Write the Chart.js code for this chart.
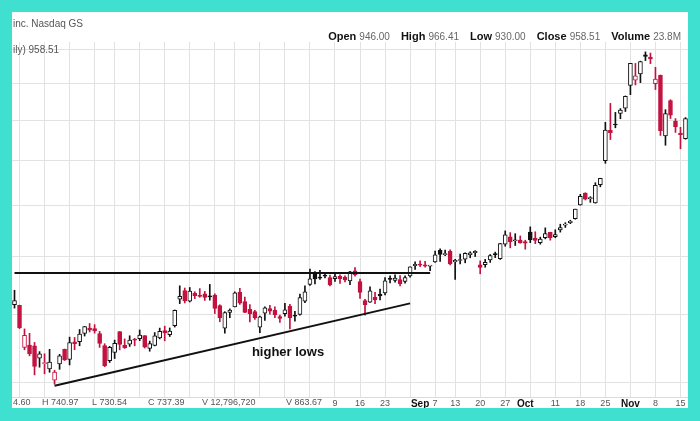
<!DOCTYPE html>
<html>
<head>
<meta charset="utf-8">
<script src="https://cdn.jsdelivr.net/npm/chart.js@4.4.1/dist/chart.umd.min.js"></script>
<style>
  html, body { margin: 0; padding: 0; }
  body { width: 700px; height: 421px; background: #40e0d0; position: relative; overflow: hidden; }
  #panel { position: absolute; left: 12px; top: 12px; width: 676px; height: 396px; background: #fff; }
  canvas { display: block; }
</style>
</head>
<body>
<div id="panel"><canvas id="chart" width="676" height="396"></canvas></div>
<script>
// daily candles, May 7 - Nov 16
const dates = [
  '2021-05-07','2021-05-10','2021-05-11','2021-05-12','2021-05-13','2021-05-14','2021-05-17','2021-05-18','2021-05-19','2021-05-20','2021-05-21','2021-05-24','2021-05-25','2021-05-26','2021-05-27','2021-05-28',
  '2021-06-01','2021-06-02','2021-06-03','2021-06-04','2021-06-07','2021-06-08','2021-06-09','2021-06-10','2021-06-11','2021-06-14','2021-06-15','2021-06-16','2021-06-17','2021-06-18','2021-06-21','2021-06-22','2021-06-23','2021-06-24','2021-06-25','2021-06-28','2021-06-29','2021-06-30',
  '2021-07-01','2021-07-02','2021-07-06','2021-07-07','2021-07-08','2021-07-09','2021-07-12','2021-07-13','2021-07-14','2021-07-15','2021-07-16','2021-07-19','2021-07-20','2021-07-21','2021-07-22','2021-07-23','2021-07-26','2021-07-27','2021-07-28','2021-07-29','2021-07-30',
  '2021-08-02','2021-08-03','2021-08-04','2021-08-05','2021-08-06','2021-08-09','2021-08-10','2021-08-11','2021-08-12','2021-08-13','2021-08-16','2021-08-17','2021-08-18','2021-08-19','2021-08-20','2021-08-23','2021-08-24','2021-08-25','2021-08-26','2021-08-27','2021-08-30','2021-08-31',
  '2021-09-01','2021-09-02','2021-09-03','2021-09-07','2021-09-08','2021-09-09','2021-09-10','2021-09-13','2021-09-14','2021-09-15','2021-09-16','2021-09-17','2021-09-20','2021-09-21','2021-09-22','2021-09-23','2021-09-24','2021-09-27','2021-09-28','2021-09-29','2021-09-30',
  '2021-10-01','2021-10-04','2021-10-05','2021-10-06','2021-10-07','2021-10-08','2021-10-11','2021-10-12','2021-10-13','2021-10-14','2021-10-15','2021-10-18','2021-10-19','2021-10-20','2021-10-21','2021-10-22','2021-10-25','2021-10-26','2021-10-27','2021-10-28','2021-10-29',
  '2021-11-01','2021-11-02','2021-11-03','2021-11-04','2021-11-05','2021-11-08','2021-11-09','2021-11-10','2021-11-11','2021-11-12','2021-11-15','2021-11-16'
];
const opens = [
  665.8,664.9,599.2,602.5,601.5,583.4,575.6,568.0,552.6,575.0,596.1,581.6,607.3,607.6,620.2,628.5,
  627.8,620.1,601.8,579.7,591.8,623.0,602.2,603.9,610.2,612.2,616.7,597.5,601.9,613.4,624.5,618.3,632.0,675.0,689.6,671.6,684.7,679.8,
  683.9,679.0,681.7,664.3,628.4,653.2,662.2,686.3,670.8,658.4,654.7,629.9,652.0,659.6,656.4,646.4,651.0,663.4,647.0,649.8,671.8,
  700.0,719.0,711.0,716.0,711.9,710.2,714.0,712.7,706.3,723.7,705.1,672.7,669.8,678.2,682.9,685.4,710.7,707.0,708.3,705.0,714.7,733.0,
  734.1,734.5,732.3,740.0,761.6,753.4,759.6,740.2,742.6,745.0,752.8,757.2,734.6,734.8,743.5,755.0,745.9,773.1,787.2,779.8,781.0,
  778.4,796.5,784.8,776.2,785.5,796.2,787.7,800.9,810.5,815.5,823.7,851.8,877.5,865.4,856.0,895.5,950.5,1024.7,1039.7,1068.3,1081.9,
  1145.0,1159.4,1177.3,1234.4,1228.0,1149.8,1173.6,1010.4,1102.8,1047.5,1017.6,1003.3
];
const highs = [
  690.0,665.0,627.1,620.4,606.5,592.9,589.7,596.3,566.2,588.9,596.7,614.5,614.0,626.2,631.1,635.6,
  633.8,623.4,604.6,600.6,610.0,623.1,611.8,616.6,612.6,625.5,616.8,608.5,621.5,628.4,631.4,628.6,657.2,697.6,693.8,694.7,687.5,692.8,
  688.0,700.0,684.0,665.7,654.4,658.9,687.2,693.3,678.6,666.1,656.7,647.2,662.4,664.9,662.2,648.8,668.2,666.5,655.0,683.7,697.5,
  726.9,722.7,724.9,721.0,716.3,719.0,716.6,715.2,722.8,729.9,709.5,674.6,695.8,686.6,692.1,712.1,715.2,717.0,715.4,715.0,731.0,740.4,
  742.0,741.0,734.0,760.2,764.5,762.1,762.6,744.8,754.5,756.9,758.9,761.0,742.0,744.7,753.7,758.2,774.8,799.0,795.6,793.5,789.1,
  780.8,807.0,797.3,786.7,805.0,796.4,801.2,812.3,815.4,820.3,843.2,874.5,878.0,869.5,900.0,910.0,1045.0,1094.9,1070.9,1081.0,1115.2,
  1208.6,1208.6,1215.4,1243.5,1239.9,1197.0,1174.5,1078.1,1105.0,1054.5,1032.0,1057.2
];
const lows = [
  660.2,627.6,595.6,586.8,559.7,570.5,561.2,563.4,547.0,567.5,580.0,573.7,595.7,601.5,616.2,622.4,
  620.6,599.1,571.2,577.2,582.9,595.5,597.6,600.5,601.5,609.2,598.2,593.5,601.3,611.8,608.9,615.5,630.0,667.6,668.7,670.3,675.9,678.1,
  672.8,673.3,651.4,638.3,620.5,644.7,662.2,666.3,652.8,637.9,642.2,621.3,640.5,650.3,644.6,637.3,647.1,627.2,639.4,648.8,669.0,
  698.4,701.0,708.9,711.4,697.6,705.1,701.9,704.2,699.4,714.3,676.4,648.8,669.4,667.6,673.7,682.2,702.6,704.0,697.6,702.1,712.7,726.4,
  731.3,730.5,724.2,739.3,740.8,751.6,734.5,708.9,736.4,738.4,747.6,750.0,718.6,730.4,739.1,747.9,744.6,769.3,766.2,770.7,775.0,
  763.6,776.1,774.2,773.2,783.4,780.9,785.5,796.6,805.8,813.4,822.4,851.5,862.5,857.4,855.5,891.0,944.2,1001.4,1030.8,1054.2,1073.2,
  1118.7,1146.0,1152.6,1217.0,1208.0,1133.0,1011.5,987.3,1054.7,1019.2,978.6,1002.2
];
const closes = [
  672.4,629.0,617.2,589.9,571.7,589.7,576.8,577.9,563.5,586.8,580.9,606.4,604.7,619.1,630.9,625.2,
  623.9,605.1,572.8,599.1,605.1,603.6,598.8,610.1,609.9,617.7,599.4,604.9,616.6,623.3,620.8,623.7,656.6,679.8,671.9,688.7,680.8,679.7,
  677.9,678.9,659.6,644.7,652.8,657.0,685.7,668.5,653.4,650.6,644.2,646.2,660.5,655.3,649.3,643.4,657.6,644.8,647.0,677.4,687.2,
  709.7,709.7,710.9,714.6,699.1,713.8,710.0,707.8,722.3,717.2,686.2,665.7,689.0,673.5,680.3,706.3,708.5,711.2,701.2,711.9,730.9,735.7,
  734.1,732.4,733.6,752.9,753.9,754.9,736.3,743.0,744.5,755.8,757.0,759.5,730.2,739.4,751.9,753.6,774.4,791.4,777.6,781.3,775.5,
  775.2,781.5,780.6,782.8,793.6,785.5,791.9,805.7,811.1,818.3,843.0,870.1,864.3,865.8,894.0,909.7,1024.9,1018.4,1037.9,1077.0,1114.0,
  1208.6,1172.0,1213.9,1229.9,1222.1,1162.9,1023.5,1068.0,1063.5,1033.4,1013.4,1054.7
];

// drawn lines
const resistanceLevel = 720;
const resistanceFrom = '2021-05-07';
const resistanceTo = '2021-09-03';
const trendFrom = ['2021-05-19', 545];
const trendTo = ['2021-08-30', 668];

// axis ticks
const tickDates = ['2021-08-09','2021-08-16','2021-08-23','2021-09-01','2021-09-07','2021-09-13','2021-09-20','2021-09-27','2021-10-01','2021-10-11','2021-10-18','2021-10-25','2021-11-01','2021-11-08','2021-11-15'];
const tickTexts = ['9','16','23','Sep','7','13','20','27','Oct','11','18','25','Nov','8','15'];
const priceGrid = [550, 650, 750, 850, 950, 1050, 1150, 1250];

const UP = '#111111';
const DOWN = '#c2123f';
const FONT = '"Liberation Sans", Arial, sans-serif';

// stockcharts style: colour from previous close, hollow when close > open
const lineColor = closes.map((c, i) => (i > 0 && c < closes[i - 1]) ? DOWN : UP);
const fillColor = closes.map((c, i) => c > opens[i] ? '#ffffff' : lineColor[i]);

// grid on the first trading day of each week
const weekStart = dates.map((d, i) => {
  if (i === 0) return false;
  const a = new Date(dates[i - 1] + 'T12:00:00Z').getUTCDay();
  const b = new Date(d + 'T12:00:00Z').getUTCDay();
  return b < a;
});

const resistance = dates.map((d, i) =>
  (i === dates.indexOf(resistanceFrom) || i === dates.indexOf(resistanceTo)) ? resistanceLevel : null);
const trend = dates.map(d => d === trendFrom[0] ? trendFrom[1] : d === trendTo[0] ? trendTo[1] : null);

const textLayer = {
  id: 'textLayer',
  afterDraw(chart) {
    const ctx = chart.ctx;
    const area = chart.chartArea;
    ctx.save();
    ctx.textBaseline = 'middle';

    ctx.fillStyle = '#555';
    ctx.font = '10px ' + FONT;
    ctx.textAlign = 'left';
    ctx.fillText('inc. Nasdaq GS', 1, 12);
    ctx.fillText('ily) 958.51', 1, 38);

    // quote line, right aligned
    const parts = [['Open', '946.00'], ['High', '966.41'], ['Low', '930.00'], ['Close', '958.51'], ['Volume', '23.8M']];
    const bold = 'bold 11px ' + FONT, reg = '10px ' + FONT;
    const gap = 11;
    let w = 0;
    parts.forEach(([k, v], i) => {
      ctx.font = bold; w += ctx.measureText(k + ' ').width;
      ctx.font = reg; w += ctx.measureText(v).width + (i < parts.length - 1 ? gap : 0);
    });
    let x = 669 - w;
    parts.forEach(([k, v]) => {
      ctx.font = bold; ctx.fillStyle = '#111'; ctx.fillText(k + ' ', x, 25); x += ctx.measureText(k + ' ').width;
      ctx.font = reg; ctx.fillStyle = '#666'; ctx.fillText(v, x, 25); x += ctx.measureText(v).width + gap;
    });

    // bottom data readout
    ctx.font = '9px ' + FONT;
    ctx.fillStyle = '#555';
    const readout = [['4.60', 1], ['H 740.97', 30], ['L 730.54', 80], ['C 737.39', 136], ['V 12,796,720', 190], ['V 863.67', 274]];
    readout.forEach(([t, px]) => ctx.fillText(t, px, area.bottom + 6));

    ctx.font = 'bold 13px ' + FONT;
    ctx.fillStyle = '#111';
    ctx.textAlign = 'center';
    ctx.fillText('higher lows', 276, 340);

    ctx.strokeStyle = '#e6d6da';
    ctx.beginPath();
    ctx.moveTo(0, area.bottom + 0.5);
    ctx.lineTo(area.right, area.bottom + 0.5);
    ctx.stroke();
    ctx.restore();
  }
};

new Chart(document.getElementById('chart'), {
  type: 'bar',
  data: {
    labels: dates,
    datasets: [
      {
        type: 'line', data: resistance, spanGaps: true, borderColor: '#111', borderWidth: 2,
        pointRadius: 0, order: 0
      },
      {
        type: 'line', data: trend, spanGaps: true, borderColor: '#111', borderWidth: 2,
        pointRadius: 0, order: 0
      },
      {
        data: dates.map((d, i) => [opens[i], closes[i]]),
        backgroundColor: fillColor, borderColor: lineColor, borderWidth: 1, borderSkipped: false,
        barThickness: 4, minBarLength: 1, grouped: false, order: 1
      },
      {
        data: dates.map((d, i) => [lows[i], highs[i]]),
        backgroundColor: lineColor, borderWidth: 0,
        barThickness: 1, grouped: false, order: 2
      }
    ]
  },
  options: {
    responsive: false,
    animation: false,
    devicePixelRatio: 1,
    layout: { padding: { top: 30, left: 0, right: 0, bottom: 0 } },
    plugins: { legend: { display: false }, tooltip: { enabled: false } },
    scales: {
      x: {
        offset: true,
        border: { display: false },
        grid: {
          offset: false, drawTicks: false, lineWidth: 1,
          color: ctx => weekStart[ctx.index] ? '#e2e2e2' : 'rgba(0,0,0,0)'
        },
        ticks: {
          autoSkip: false, maxRotation: 0, minRotation: 0, padding: 1,
          callback: function (value) {
            const k = tickDates.indexOf(this.getLabelForValue(value));
            return k >= 0 ? tickTexts[k] : '';
          },
          font: ctx => {
            const k = tickDates.indexOf(dates[ctx.index]);
            const month = k >= 0 && isNaN(Number(tickTexts[k]));
            return { family: FONT, size: month ? 10 : 9, weight: month ? 'bold' : 'normal' };
          },
          color: ctx => {
            const k = tickDates.indexOf(dates[ctx.index]);
            return (k >= 0 && isNaN(Number(tickTexts[k]))) ? '#111' : '#555';
          }
        },
        afterFit: s => { s.height = 11; }
      },
      y: {
        type: 'logarithmic',
        position: 'right',
        min: 530,
        max: 1274.3,
        bounds: 'data',
        border: { display: false },
        grid: { color: '#e2e2e2', drawTicks: false },
        ticks: { display: false },
        afterBuildTicks: s => { s.ticks = priceGrid.map(v => ({ value: v })); },
        afterFit: s => { s.width = 0; }
      }
    }
  },
  plugins: [textLayer]
});
</script>
</body>
</html>
